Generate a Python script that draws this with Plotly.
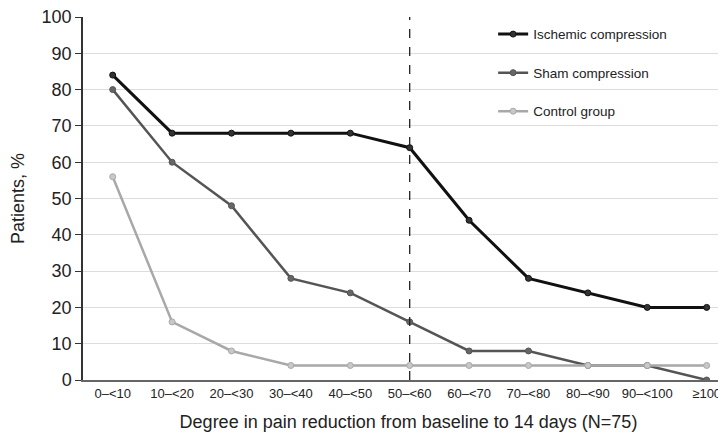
import plotly.graph_objects as go

categories = ["0–<10", "10–<20", "20–<30", "30–<40", "40–<50", "50–<60",
              "60–<70", "70–<80", "80–<90", "90–<100", "≥100"]
ischemic = [84, 68, 68, 68, 68, 64, 44, 28, 24, 20, 20]
sham = [80, 60, 48, 28, 24, 16, 8, 8, 4, 4, 0]
control = [56, 16, 8, 4, 4, 4, 4, 4, 4, 4, 4]
y_ticks = [0, 10, 20, 30, 40, 50, 60, 70, 80, 90, 100]

fig = go.Figure()
series = [
    ("Ischemic compression", ischemic, "#111111", "#333333", 3),
    ("Sham compression", sham, "#555555", "#666666", 2.5),
    ("Control group", control, "#a8a8a8", "#c8c8c8", 2.5),
]
for i, (name, vals, lc, mc, w) in enumerate(series):
    fig.add_trace(go.Scatter(
        x=list(range(len(categories))), y=vals, name=name, mode="lines+markers",
        line=dict(color=lc, width=w),
        marker=dict(size=6, color=mc, line=dict(color=lc, width=1)),
        legendgroup=f"g{i}",
    ))

fig.add_shape(type="line", x0=5, x1=5, y0=0, y1=100, xref="x", yref="y",
              line=dict(color="#222222", width=1.3, dash="dash"))

fig.update_layout(
    width=726, height=443,
    margin=dict(l=75, r=0, t=9, b=71),
    paper_bgcolor="white", plot_bgcolor="white",
    font=dict(family="Liberation Sans, Arial, sans-serif", color="#222222"),
    showlegend=True,
    legend=dict(x=0.63, y=0.995, xanchor="left", yanchor="top",
                bgcolor="rgba(0,0,0,0)", font=dict(size=13.5, color="#222"),
                traceorder="grouped", tracegroupgap=18, itemwidth=30),
    xaxis=dict(
        range=[-0.5, 10.46], tickmode="array", automargin=False,
        tickvals=list(range(len(categories))), ticktext=categories,
        tickfont=dict(size=13, color="#222"), showgrid=False,
        showline=True, linecolor="#666666", linewidth=2, ticks="",
        ticklabeloverflow="allow",
        title=dict(text="Degree in pain reduction from baseline to 14 days (N=75)",
                   font=dict(size=18, color="#222"), standoff=16),
        zeroline=False,
    ),
    yaxis=dict(
        range=[0, 100], tickmode="array", tickvals=y_ticks, automargin=False,
        tickfont=dict(size=18, color="#222"), ticklabeloverflow="allow",
        showgrid=True, gridcolor="#dddddd", gridwidth=1,
        showline=True, linecolor="#333333", linewidth=1.5,
        ticks="outside", ticklen=6, tickcolor="#333333",
        title=dict(text="Patients, %", font=dict(size=18, color="#222"), standoff=16),
        zeroline=False,
    ),
)

fig.write_html("out.html")
